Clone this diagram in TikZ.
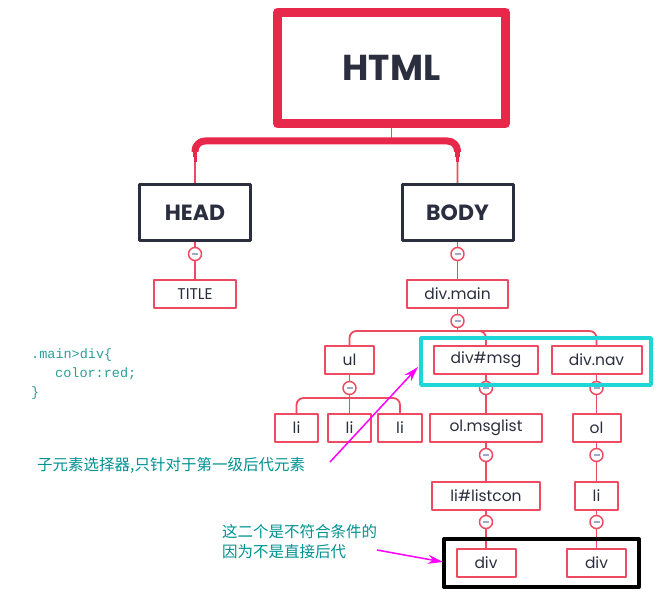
\documentclass[tikz,border=0pt]{standalone}
\usepackage{fontspec}
\setmainfont{Poppins}
\setmonofont{Liberation Mono}
\newfontfamily\cjk{Noto Sans CJK SC}
\usetikzlibrary{arrows.meta}
\definecolor{htmlred}{HTML}{E8284A}
\definecolor{boxred}{HTML}{EE4B62}
\definecolor{ink}{HTML}{2B2E3E}
\definecolor{minus}{HTML}{A0A8C8}
\definecolor{hlcyan}{HTML}{1FD6D6}
\definecolor{notecol}{RGB}{0,145,145}
\definecolor{codecol}{RGB}{40,160,150}
\definecolor{hintcol}{RGB}{255,0,255}
\begin{document}
\begin{tikzpicture}[x=1pt,y=-1pt, line join=round, >=Stealth,
	box/.style={draw=boxred, line width=2pt, fill=white, minimum height=28pt, inner sep=0pt, text=ink, font=\fontsize{15.5}{18}\selectfont},
	top/.style={draw=ink, line width=3pt, fill=white, minimum width=111pt, minimum height=56pt, inner sep=0pt, text=ink, font=\fontsize{22}{26}\selectfont\bfseries},
	tog/.style={circle, draw=boxred, line width=1.5pt, fill=white, minimum size=13pt, inner sep=0pt},
	link/.style={boxred, line width=1.8pt, rounded corners=7pt},
	note/.style={text=notecol, font=\fontsize{15.5}{20}\selectfont\cjk, align=left, anchor=west, inner sep=0pt},
	hint/.style={hintcol, line width=1.5pt, -{Stealth[length=15pt,width=9pt]}}]
	\useasboundingbox (0,0) rectangle (669,604);
	% cây HTML
	\node[draw=htmlred, line width=9pt, minimum width=228pt, minimum height=111pt, text=ink, font=\fontsize{36}{40}\selectfont\bfseries] (html) at (391.5,68) {HTML};
	\node[top] (head) at (195,212.5) {HEAD};
	\node[top] (body) at (457.5,212.5) {BODY};
	\node[tog] (t1) at (195,254) {\color{minus}\rule{6pt}{1.6pt}};
	\node[tog] (t2) at (457.5,254) {\color{minus}\rule{6pt}{1.6pt}};
	\node[box, minimum width=82pt] (title) at (195,294) {TITLE};
	\node[box, minimum width=101pt] (main) at (457.5,294) {div.main};
	\node[tog] (t3) at (457.5,321) {\color{minus}\rule{6pt}{1.6pt}};
	\node[box, minimum width=49pt] (ul) at (349.5,360) {ul};
	\node[box, minimum width=104pt] (msg) at (486,360) {div\#msg};
	\node[box, minimum width=90pt] (nav) at (596.5,360) {div.nav};
	\node[tog] (t4) at (349.5,388) {\color{minus}\rule{6pt}{1.6pt}};
	\node[tog] (t5) at (486,388) {\color{minus}\rule{6pt}{1.6pt}};
	\node[tog] (t6) at (596.5,388) {\color{minus}\rule{6pt}{1.6pt}};
	\node[box, minimum width=43pt] (li1) at (296.5,428) {li};
	\node[box, minimum width=43pt] (li2) at (349.5,428) {li};
	\node[box, minimum width=44pt] (li3) at (400,428) {li};
	\node[box, minimum width=112pt] (olmsg) at (486,428) {ol.msglist};
	\node[box, minimum width=48pt] (ol) at (596.5,428) {ol};
	\node[tog] (t7) at (486,455) {\color{minus}\rule{6pt}{1.6pt}};
	\node[tog] (t8) at (596.5,455) {\color{minus}\rule{6pt}{1.6pt}};
	\node[box, minimum width=108pt] (con) at (486,495.5) {li\#listcon};
	\node[box, minimum width=43pt] (li4) at (596.5,495.5) {li};
	\node[tog] (t9) at (486,522) {\color{minus}\rule{6pt}{1.6pt}};
	\node[tog] (t10) at (596.5,522) {\color{minus}\rule{6pt}{1.6pt}};
	\node[box, minimum width=59pt] (div1) at (486,562.5) {div};
	\node[box, minimum width=59pt] (div2) at (596.5,562.5) {div};
	% nhánh nối
	\coordinate (hb) at (391.5,141);
	\coordinate (hl) at (195,152);
	\coordinate (hr) at (457.5,152);
	\draw[link] (html) -- (hb);
	\draw[link] (head) |- (hb) -| (body);
	\draw[htmlred, line width=7pt, rounded corners=10pt] (hl) |- (hb) -| (hr);
	\draw[htmlred, line width=4.5pt] (hl) -- ++(0,5) (hr) -- ++(0,5);
	\draw[htmlred, line width=3pt] (hl) -- ++(0,10) (hr) -- ++(0,10);
	\draw[link] (head) -- (t1) -- (title);
	\draw[link] (body) -- (t2) -- (main);
	\draw[link] (main) -- (t3);
	\coordinate (bm) at (457.5,331);
	\draw[link] (t3) -- (bm);
	\draw[link] (ul.north) |- (bm) -| (nav.north);
	\draw[link] (bm) -| (msg.north);
	\draw[link] (ul) -- (t4);
	\coordinate (bu) at (349.5,398);
	\draw[link] (t4) -- (bu);
	\draw[link] (li1.north) |- (bu) -| (li3.north);
	\draw[link] (bu) -- (li2);
	\draw[link] (msg) -- (t5) -- (olmsg) -- (t7) -- (con) -- (t9) -- (div1);
	\draw[link] (nav) -- (t6) -- (ol) -- (t8) -- (li4) -- (t10) -- (div2);
	% khung đánh dấu
	\draw[hlcyan, line width=3.5pt] (421,338) rectangle (651,385);
	\draw[black, line width=4pt] (444,539) rectangle (639,587);
	% ghi chú
	\node[text=codecol, font=\fontsize{13.5}{19}\selectfont\ttfamily, align=left, anchor=west, inner sep=0pt] (css) at (31,374) {.main>div\{\\\hspace*{24pt}color:red;\\\}};
	\node[note] (note1) at (37,465) {子元素选择器,只针对于第一级后代元素};
	\node[note] (note2) at (222,542) {这二个是不符合条件的\\因为不是直接后代};
	\coordinate (p1) at (330,462);
	\coordinate (q1) at (418,367);
	\coordinate (p2) at (377,550);
	\coordinate (q2) at (443,562);
	\draw[hint] (p1) -- (q1);
	\draw[hint] (p2) -- (q2);
\end{tikzpicture}
\end{document}
